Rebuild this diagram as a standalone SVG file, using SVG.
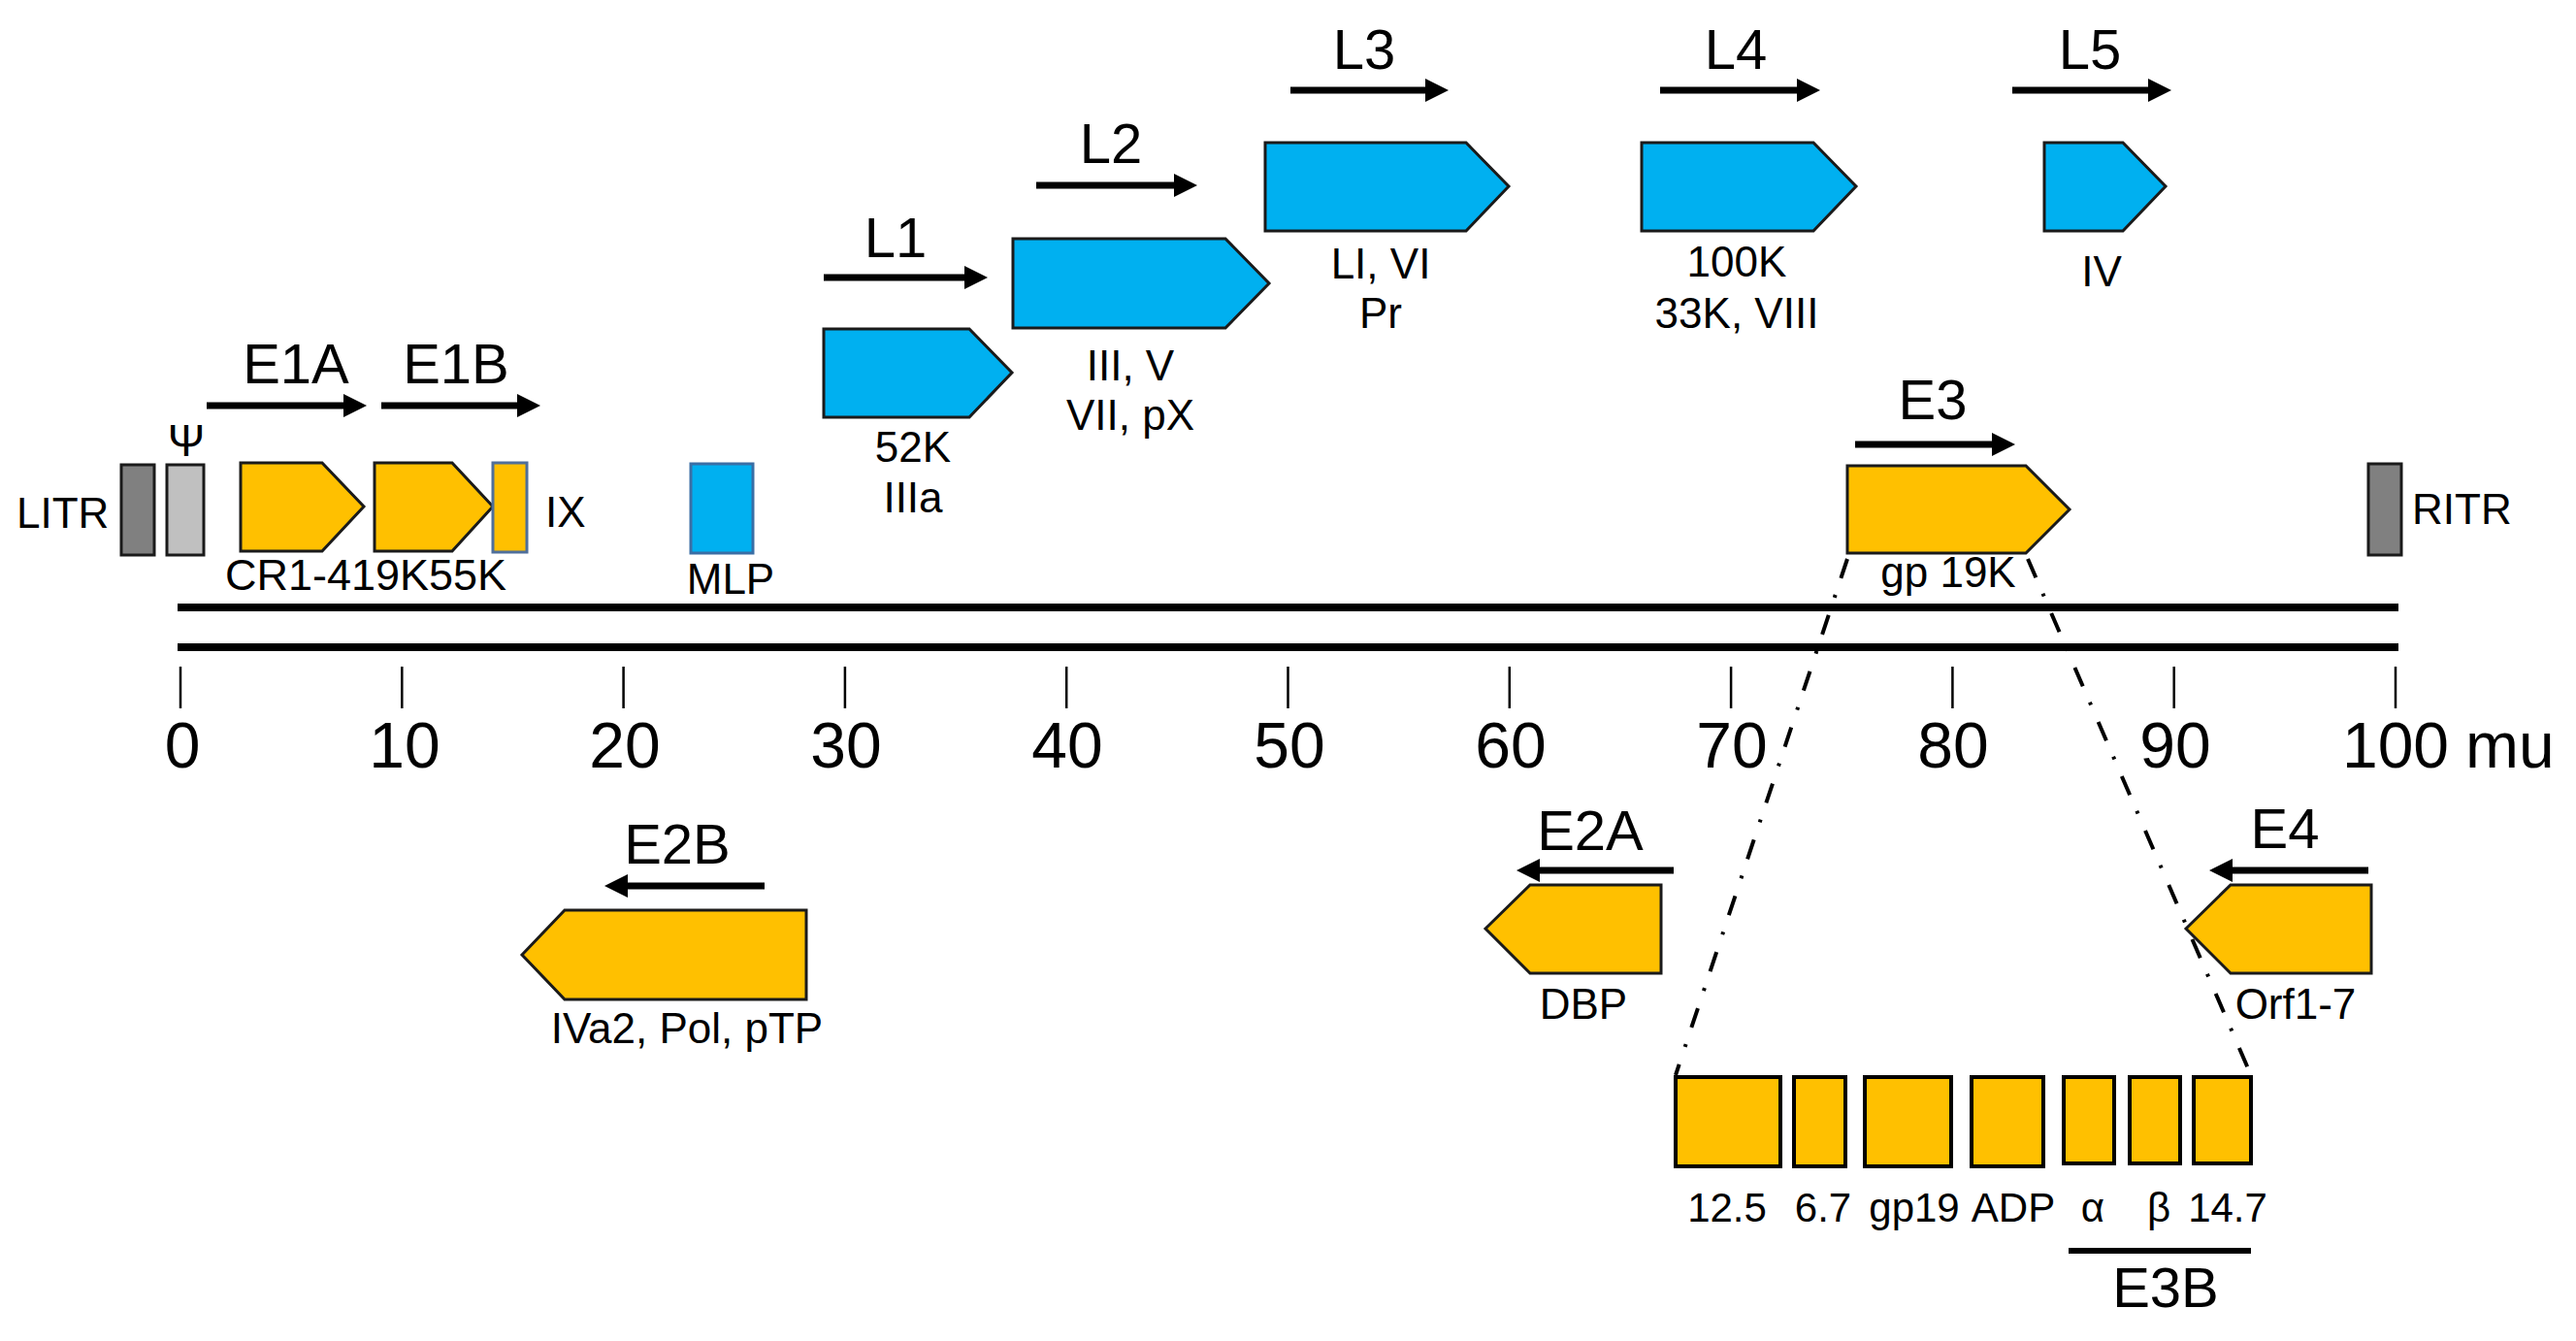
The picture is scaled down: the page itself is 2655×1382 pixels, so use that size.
<svg xmlns="http://www.w3.org/2000/svg" width="2655" height="1382" viewBox="0 0 2655 1382">
<style>
text{font-family:"Liberation Sans",Arial,sans-serif;fill:#000}
.t{font-size:58px;text-anchor:middle}
.s{font-size:44px;text-anchor:middle}
.n{font-size:66px;text-anchor:middle}
.e{font-size:42px;text-anchor:middle}
.y{fill:#ffc000;stroke:#1a1a1a;stroke-width:3}
.b{fill:#00b0f0;stroke:#1a1a1a;stroke-width:3}
.eb{fill:#ffc000;stroke:#000;stroke-width:4}
.arr{stroke:#000;stroke-width:7;fill:none;marker-end:url(#ah)}
.axis{stroke:#000;stroke-width:8}
.tick{stroke:#000;stroke-width:2.5}
.dd{stroke:#000;stroke-width:4;fill:none;stroke-dasharray:21 18 3 19}
</style>
<defs>
<marker id="ah" markerUnits="userSpaceOnUse" markerWidth="26" markerHeight="26" refX="14" refY="12" orient="auto">
<path d="M0,0 L24,12 L0,24 z" fill="#000"/>
</marker>
</defs>
<rect width="2655" height="1382" fill="#fff"/>

<g id="axis">
<line class="axis" x1="183" y1="626" x2="2472" y2="626"/>
<line class="axis" x1="183" y1="667" x2="2472" y2="667"/>
<g class="tick">
<line x1="186" y1="687" x2="186" y2="730"/>
<line x1="414.3" y1="687" x2="414.3" y2="730"/>
<line x1="642.6" y1="687" x2="642.6" y2="730"/>
<line x1="870.9" y1="687" x2="870.9" y2="730"/>
<line x1="1099.2" y1="687" x2="1099.2" y2="730"/>
<line x1="1327.5" y1="687" x2="1327.5" y2="730"/>
<line x1="1555.8" y1="687" x2="1555.8" y2="730"/>
<line x1="1784.1" y1="687" x2="1784.1" y2="730"/>
<line x1="2012.4" y1="687" x2="2012.4" y2="730"/>
<line x1="2240.7" y1="687" x2="2240.7" y2="730"/>
<line x1="2469" y1="687" x2="2469" y2="730"/>
</g>
<text class="n" x="188" y="791">0</text>
<text class="n" x="417" y="791">10</text>
<text class="n" x="644" y="791">20</text>
<text class="n" x="872" y="791">30</text>
<text class="n" x="1100" y="791">40</text>
<text class="n" x="1329" y="791">50</text>
<text class="n" x="1557" y="791">60</text>
<text class="n" x="1785" y="791">70</text>
<text class="n" x="2013" y="791">80</text>
<text class="n" x="2242" y="791">90</text>
<text class="n" x="2469" y="791">100</text>
<text x="2541" y="791" style="font-size:66px">mu</text>
</g>

<g id="connectors">
<line class="arr" x1="213" y1="418" x2="368" y2="418"/>
<line class="arr" x1="393" y1="418" x2="547" y2="418"/>
<line class="arr" x1="849" y1="286" x2="1008" y2="286"/>
<line class="arr" x1="1068" y1="191" x2="1224" y2="191"/>
<line class="arr" x1="1330" y1="93" x2="1483" y2="93"/>
<line class="arr" x1="1711" y1="93" x2="1866" y2="93"/>
<line class="arr" x1="2074" y1="93" x2="2228" y2="93"/>
<line class="arr" x1="1912" y1="458" x2="2067" y2="458"/>
<line class="arr" x1="788" y1="913" x2="633" y2="913"/>
<line class="arr" x1="1725" y1="897" x2="1573" y2="897"/>
<line class="arr" x1="2441" y1="897" x2="2287" y2="897"/>
<line class="dd" x1="1904" y1="576" x2="1727" y2="1108"/>
<line class="dd" x1="2090" y1="576" x2="2320" y2="1108"/>
<line x1="2132" y1="1289" x2="2320" y2="1289" stroke="#000" stroke-width="6"/>
</g>

<g id="LITR">
<rect x="125" y="479" width="34" height="93" fill="#808080" stroke="#1a1a1a" stroke-width="3"/>
<text x="17" y="544" style="font-size:44px">LITR</text>
</g>
<g id="psi">
<rect x="172" y="479" width="38" height="93" fill="#c0c0c0" stroke="#1a1a1a" stroke-width="3"/>
<text x="192" y="470" style="font-size:46px;text-anchor:middle">Ψ</text>
</g>
<g id="E1A">
<text class="t" x="305" y="395">E1A</text>
<polygon class="y" points="248,477 332,477 375,522 332,568 248,568"/>
<text x="232" y="608" style="font-size:45px">CR1-4</text>
</g>
<g id="E1B">
<text class="t" x="470" y="395">E1B</text>
<polygon class="y" points="386,477 466,477 508,522 466,568 386,568"/>
<text x="362" y="608" style="font-size:45px">19K</text>
<text x="442" y="608" style="font-size:45px">55K</text>
</g>
<g id="IX">
<rect x="508" y="477" width="35" height="92" fill="#ffc000" stroke="#4f6f9a" stroke-width="3"/>
<text x="562" y="543" style="font-size:44px">IX</text>
</g>
<g id="MLP">
<rect x="712" y="478" width="64" height="92" fill="#00b0f0" stroke="#3a6ea5" stroke-width="3"/>
<text class="s" x="753" y="612">MLP</text>
</g>
<g id="L1">
<text class="t" x="923" y="265">L1</text>
<polygon class="b" points="849,339 999,339 1043,384 999,430 849,430"/>
<text class="s" x="941" y="476">52K</text>
<text class="s" x="941" y="528">IIIa</text>
</g>
<g id="L2">
<text class="t" x="1145" y="168">L2</text>
<polygon class="b" points="1044,246 1263,246 1308,292 1263,338 1044,338"/>
<text class="s" x="1165" y="392">III, V</text>
<text class="s" x="1165" y="443">VII, pX</text>
</g>
<g id="L3">
<text class="t" x="1406" y="71">L3</text>
<polygon class="b" points="1304,147 1511,147 1555,192 1511,238 1304,238"/>
<text class="s" x="1423" y="287">LI, VI</text>
<text class="s" x="1423" y="338">Pr</text>
</g>
<g id="L4">
<text class="t" x="1789" y="71">L4</text>
<polygon class="b" points="1692,147 1869,147 1913,192 1869,238 1692,238"/>
<text class="s" x="1790" y="285">100K</text>
<text class="s" x="1790" y="338">33K, VIII</text>
</g>
<g id="L5">
<text class="t" x="2154" y="71">L5</text>
<polygon class="b" points="2107,147 2188,147 2232,192 2188,238 2107,238"/>
<text class="s" x="2166" y="295">IV</text>
</g>
<g id="E3">
<text class="t" x="1992" y="432">E3</text>
<polygon class="y" points="1904,480 2088,480 2133,525 2088,570 1904,570"/>
<text class="s" x="2008" y="605">gp 19K</text>
</g>
<g id="RITR">
<rect x="2441" y="478" width="34" height="94" fill="#808080" stroke="#1a1a1a" stroke-width="3"/>
<text x="2486" y="540" style="font-size:44px">RITR</text>
</g>
<g id="E2B">
<text class="t" x="698" y="890">E2B</text>
<polygon class="y" points="538,984 582,938 831,938 831,1030 582,1030"/>
<text class="s" x="708" y="1075">IVa2, Pol, pTP</text>
</g>
<g id="E2A">
<text class="t" x="1639" y="876">E2A</text>
<polygon class="y" points="1531,957 1577,912 1712,912 1712,1003 1577,1003"/>
<text class="s" x="1632" y="1050">DBP</text>
</g>
<g id="E4">
<text class="t" x="2355" y="874">E4</text>
<polygon class="y" points="2253,957 2299,912 2444,912 2444,1003 2299,1003"/>
<text class="s" x="2366" y="1050">Orf1-7</text>
</g>
<g id="E3-detail">
<rect class="eb" x="1727" y="1110" width="108" height="92"/>
<rect class="eb" x="1849" y="1110" width="53" height="92"/>
<rect class="eb" x="1922" y="1110" width="89" height="92"/>
<rect class="eb" x="2032" y="1110" width="74" height="92"/>
<rect class="eb" x="2127" y="1110" width="52" height="89"/>
<rect class="eb" x="2195" y="1110" width="52" height="89"/>
<rect class="eb" x="2261" y="1110" width="59" height="89"/>
<text class="e" x="1780" y="1259">12.5</text>
<text class="e" x="1879" y="1259">6.7</text>
<text class="e" x="1973" y="1259">gp19</text>
<text class="e" x="2075" y="1259">ADP</text>
<text class="e" x="2157" y="1259">α</text>
<text class="e" x="2225" y="1259">β</text>
<text class="e" x="2296" y="1259">14.7</text>
<text class="t" x="2232" y="1347">E3B</text>
</g>
</svg>
